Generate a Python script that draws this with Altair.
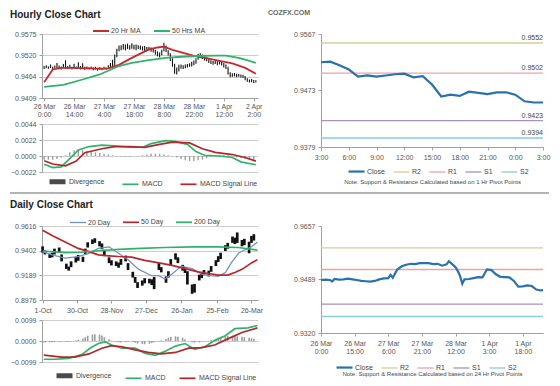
import json
import altair as alt
import pandas as pd

FONT = "Liberation Sans"

# ---------------- Hourly close chart (left) ----------------
H_LO = [.9484, .9486, .9485, .9487, .9483, .9486, .9484, .9486, .9483, .9488,
        .9485, .9484, .9486, .9483, .9485, .9484, .9486, .9483, .9485, .9482,
        .9484, .9483, .9484, .9481, .9483, .9480, .9482, .9481, .9483, .9482,
        .9484, .9486, .9484, .9490, .9515, .9530, .9533, .9535, .9532, .9536,
        .9534, .9537, .9535, .9533, .9536, .9534, .9532, .9531, .9530, .9532,
        .9529, .9527, .9521, .9517, .9514, .9520, .9530, .9528, .9519, .9505,
        .9490, .9472, .9470, .9478, .9485, .9484, .9486, .9488, .9490, .9491,
        .9494, .9498, .9508, .9512, .9510, .9506, .9504, .9500, .9497, .9495,
        .9497, .9494, .9496, .9493, .9488, .9484, .9470, .9463, .9464, .9465,
        .9463, .9464, .9462, .9461, .9455, .9451, .9449, .9450, .9448, .9449]
H_HI = [.9492, .9494, .9491, .9496, .9490, .9493, .9500, .9493, .9491, .9497,
        .9507, .9492, .9495, .9490, .9498, .9491, .9502, .9492, .9499, .9490,
        .9491, .9489, .9491, .9488, .9490, .9487, .9489, .9487, .9490, .9488,
        .9494, .9500, .9508, .9522, .9537, .9545, .9546, .9549, .9548, .9550,
        .9546, .9551, .9547, .9548, .9546, .9545, .9543, .9544, .9541, .9542,
        .9540, .9539, .9534, .9530, .9527, .9534, .9552, .9545, .9533, .9525,
        .9512, .9498, .9488, .9495, .9496, .9494, .9496, .9497, .9499, .9503,
        .9506, .9512, .9524, .9525, .9522, .9517, .9515, .9512, .9507, .9505,
        .9506, .9504, .9507, .9503, .9500, .9496, .9490, .9476, .9473, .9474,
        .9472, .9471, .9470, .9469, .9466, .9460, .9457, .9458, .9456, .9455]
H_MA20_X = [0, 4, 8, 14, 20, 26, 30, 35, 41, 45, 49, 53, 56, 60, 65, 70, 77, 82, 88, 94, 99]
H_MA20 = [.9450, .9483, .9487, .9487, .9486, .9485, .9486, .9495, .9513, .9524, .9535,
          .9540, .9542, .9534, .9526, .9518, .9511, .9505, .9499, .9487, .9472]
H_MA50_X = [0, 9, 18, 26, 35, 41, 49, 57, 64, 72, 80, 85, 91, 96, 99]
H_MA50 = [.9438, .9443, .9457, .9470, .9492, .9500, .9507, .9513, .9516, .9518, .9519,
          .9519, .9513, .9505, .9500]
H_XTICKS = [0, 14, 28, 42, 56, 70, 84, 98]
H_XLABELS = [["26 Mar", "0:00"], ["26 Mar", "14:00"], ["27 Mar", "4:00"], ["27 Mar", "18:00"],
             ["28 Mar", "8:00"], ["28 Mar", "22:00"], ["1 Apr", "12:00"], ["2 Apr", "2:00"]]
H_YTICKS = [0.9409, 0.94643, 0.95197, 0.9575]

H_MACD_X = [0, 4, 8, 12, 16, 21, 27, 33, 40, 46, 50, 57, 61, 67, 71, 75, 82, 88, 92, 99]
H_MACD = [-0.00113, -0.0016, -0.0015, -0.00035, 0.00084, 0.0013, 0.0015, 0.0014, 0.0012, 0.0012,
          0.0017, 0.0021, 0.0020, 0.0016, 0.0006, 0.0001, 0.0000, -0.0002, -0.0008, -0.0012]
H_SIG_X = [0, 4, 10, 15, 19, 27, 33, 40, 47, 54, 60, 68, 74, 80, 88, 94, 99]
H_SIG = [-0.00066, -0.0011, -0.00136, -0.0007, 0.00045, 0.0010, 0.0013, 0.0013, 0.0012, 0.0016,
         0.0019, 0.0018, 0.0010, 0.0005, 0.0002, -0.0002, -0.0007]
H_DIV = [-0.0005, -0.0005, -0.0005, -0.0004, -0.0002, 0.0001, 0.0005, 0.0008, 0.0009, 0.0008,
         0.0007, 0.0006, 0.0005, 0.0004, 0.0003, 0.0002, 0.0001, 0.0000, -0.0001, -0.0001,
         -0.0001, 0.0000, 0.0000, 0.0001, 0.0002, 0.0003, 0.0003, 0.0003, 0.0002, 0.0001,
         0.0000, -0.0002, -0.0004, -0.0006, -0.0007, -0.0007, -0.0006, -0.0005, -0.0003, -0.0001,
         0.0000, 0.0001, 0.0001, 0.0001, 0.0000, -0.0002, -0.0003, -0.0004, -0.0005, -0.0005]
H_MACD_TICKS = [-0.0022, 0.0, 0.0022, 0.0044]

# ---------------- Hourly pivot chart (right) ----------------
HR_CLOSE = [0.9520, 0.9521, 0.9515, 0.9508, 0.9496, 0.9498, 0.9496, 0.9498, 0.9500, 0.9501,
            0.9495, 0.9497, 0.9483, 0.9463, 0.9466, 0.9464, 0.9471, 0.9469, 0.9467, 0.9470,
            0.9470, 0.9466, 0.9455, 0.9453, 0.9453]
HR_LEVEL_NAMES = ["R2", "R1", "S1", "S2"]
HR_LEVELS = [0.9552, 0.9502, 0.9423, 0.9394]
HR_XTICKS = [0, 3, 6, 9, 12, 15, 18, 21, 24]
HR_XLABELS = ["3:00", "6:00", "9:00", "12:00", "15:00", "18:00", "21:00", "0:00", "3:00"]
HR_YTICKS = [0.9379, 0.9426, 0.9473, 0.9520, 0.9567]

# ---------------- Daily close chart (left) ----------------
D_START = "2013-10-01"
D_LO = [.9385, .9370, .9340, .9345, .9370, .9385, .9310, .9245, .9230, .9260,
        .9300, .9315, .9305, .9370, .9430, .9460, .9470, .9440, .9415, .9355,
        .9295, .9275, .9270, .9255, .9280, .9310, .9235, .9170, .9125, .9080,
        .9100, .9120, .9120, .9105, .9070, .9235, .9215, .9125, .9170, .9270,
        .9325, .9295, .9230, .9210, .9110, .9030, .9040, .9145, .9165, .9190,
        .9180, .9220, .9270, .9305, .9330, .9400, .9420, .9470, .9460, .9470,
        .9440, .9450, .9380, .9470, .9490]
D_HI = [.9440, .9405, .9375, .9385, .9420, .9430, .9370, .9290, .9265, .9310,
        .9350, .9365, .9350, .9420, .9475, .9500, .9510, .9485, .9465, .9410,
        .9345, .9320, .9310, .9300, .9330, .9360, .9295, .9220, .9175, .9130,
        .9145, .9165, .9160, .9155, .9175, .9295, .9260, .9180, .9225, .9330,
        .9380, .9345, .9280, .9260, .9225, .9110, .9115, .9195, .9215, .9235,
        .9230, .9270, .9320, .9355, .9385, .9450, .9470, .9525, .9515, .9560,
        .9495, .9505, .9480, .9530, .9545]
D_MA20_X = [0, 8, 19, 30, 39, 47, 56, 64, 72, 81, 92, 98, 103, 109, 117, 126, 134, 142, 148,
            154, 159, 165, 170, 176, 181]
D_MA20 = [0.9394, 0.9366, 0.9339, 0.9352, 0.9380, 0.9422, 0.9436, 0.9380, 0.9325, 0.9241,
          0.9186, 0.9186, 0.9158, 0.9200, 0.9269, 0.9247, 0.9200, 0.9186, 0.9180, 0.9214,
          0.9297, 0.9380, 0.9408, 0.9436, 0.9477]
D_MA50_X = [0, 8, 19, 30, 39, 47, 56, 64, 75, 86, 98, 109, 120, 131, 140, 148, 156, 162, 168,
            176, 181]
D_MA50 = [0.9580, 0.9533, 0.9477, 0.9422, 0.9394, 0.9366, 0.9358, 0.9352, 0.9347, 0.9319,
          0.9297, 0.9275, 0.9247, 0.9219, 0.9205, 0.9191, 0.9191, 0.9214, 0.9241, 0.9297, 0.9325]
D_MA200_X = [0, 19, 33, 47, 64, 83, 103, 126, 148, 165, 181]
D_MA200 = [0.9400, 0.9386, 0.9389, 0.9402, 0.9413, 0.9422, 0.9430, 0.9436, 0.9436, 0.9430, 0.9408]
D_XTICKS = [0, 29, 58, 87, 117, 147, 176]
D_XLABELS = ["1-Oct", "30-Oct", "28-Nov", "27-Dec", "26-Jan", "25-Feb", "26-Mar"]
D_YTICKS = [0.8976, 0.9189, 0.9402, 0.9616]

D_MACD_X = [1, 11, 22, 33, 40, 47, 53, 58, 67, 78, 86, 95, 103, 112, 120, 128, 137, 145, 154,
            162, 173, 181]
D_MACD = [-0.0086, -0.0086, -0.0082, -0.0064, -0.0034, -0.0012, -0.0004, -0.0019, -0.0034,
          -0.0034, -0.0057, -0.0068, -0.0049, -0.0024, -0.0012, -0.0039, -0.0027, 0.0003,
          0.0025, 0.0058, 0.0062, 0.0073]
D_SIG_X = [1, 16, 27, 39, 50, 58, 67, 78, 89, 100, 112, 123, 134, 145, 156, 168, 181]
D_SIG = [-0.0067, -0.0076, -0.0076, -0.0061, -0.0034, -0.0022, -0.0027, -0.0042, -0.0054,
         -0.0061, -0.0054, -0.0034, -0.0031, -0.0019, 0.0010, 0.0040, 0.0062]
D_DIV = [-0.0008, -0.0007, -0.0006, -0.0006, -0.0005, -0.0004, -0.0003, -0.0004, -0.0003, -0.0001,
         0.0002, 0.0006, 0.0012, 0.0018, 0.0025, 0.0030, 0.0032, 0.0030, 0.0026, 0.0018,
         0.0008, 0.0002, -0.0004, -0.0006, -0.0007, -0.0005, -0.0003, -0.0004, -0.0008, -0.0012,
         -0.0014, -0.0015, -0.0013, -0.0010, -0.0006, -0.0002, 0.0003, 0.0010, 0.0016, 0.0020,
         0.0022, 0.0020, 0.0015, 0.0008, 0.0000, -0.0006, -0.0008, -0.0006, -0.0003, -0.0001,
         0.0001, 0.0005, 0.0010, 0.0015, 0.0020, 0.0022, 0.0024, 0.0025, 0.0024, 0.0022,
         0.0020, 0.0018, 0.0015, 0.0013, 0.0011]
D_MACD_TICKS = [-0.0099, 0.0, 0.0099]

# ---------------- Daily pivot chart (right) ----------------
DR_X = [0, 2, 4, 5, 6, 8, 10, 12, 14, 16, 18, 20, 22, 24, 26, 28, 30, 31, 32, 34,
        36, 38, 40, 42, 44, 46, 48, 50, 52, 54, 56, 57, 58, 60, 61, 62, 63, 64, 66, 68,
        70, 72, 74, 76, 78, 80, 82, 84, 86, 88, 90, 92, 94, 96, 98, 99]
DR_CLOSE = [0.9487, 0.9488, 0.9487, 0.9482, 0.9490, 0.9488, 0.9489, 0.9491, 0.9489, 0.9487,
            0.9484, 0.9483, 0.9482, 0.9484, 0.9489, 0.9492, 0.9493, 0.9503, 0.9494, 0.9520,
            0.9530, 0.9535, 0.9538, 0.9537, 0.9540, 0.9540, 0.9540, 0.9537, 0.9538, 0.9532,
            0.9536, 0.9546, 0.9540, 0.9527, 0.9515, 0.9500, 0.9475, 0.9489, 0.9490, 0.9493,
            0.9496, 0.9495, 0.9520, 0.9518, 0.9505, 0.9497, 0.9496, 0.9495, 0.9484, 0.9466,
            0.9467, 0.9470, 0.9468, 0.9457, 0.9454, 0.9455]
DR_LEVEL_NAMES = ["R2", "R1", "S1", "S2"]
DR_LEVELS = [0.9588, 0.9520, 0.9411, 0.9372]
DR_XTICKS = [0, 15, 30, 45, 60, 75, 90]
DR_XLABELS = [["26 Mar", "0:00"], ["26 Mar", "15:00"], ["27 Mar", "6:00"], ["27 Mar", "21:00"],
              ["28 Mar", "12:00"], ["1 Apr", "3:00"], ["1 Apr", "18:00"]]
DR_YTICKS = [0.9320, 0.9404, 0.9489, 0.9573, 0.9657]

# ---------------- series names / styles ----------------
H_MA_SERIES = ["20 Hr MA", "50 Hrs MA"]
H_MA_COLORS = ["#c62a2f", "#2fb36b"]
MACD_SERIES = ["Divergence", "MACD", "MACD Signal Line"]
MACD_COLORS = ["#4a4a4a", "#2fb36b", "#b3272c"]
MACD_WIDTHS = [5, 1.7, 1.7]
D_MA_SERIES = ["20 Day", "50 Day", "200 Day"]
D_MA_COLORS = ["#7390bd", "#b8272c", "#2fb36b"]
D_MA_WIDTHS = [1.3, 1.7, 1.7]
RS_SERIES = ["Close", "R2", "R1", "S1", "S2"]
RS_COLORS = ["#2871ad", "#d2cf98", "#e9a3a6", "#a692c0", "#8ccbdc"]
RS_WIDTHS = [2.2, 1.3, 1.3, 1.3, 1.3]

NOTE_H = "Note: Support & Resistance Calculated based on 1 Hr Pivot Points"
NOTE_D = "Note: Support & Resistance Calculated based on 24 Hr Pivot Points"

# panel geometry (pixels)
LW = 216           # left panels width
RW = 222           # right panels width
GAP_X = 63
H_PH, H_GAP, H_MH = 64, 26, 48     # hourly: price height, gap, macd height
D_PH, D_GAP, D_MH = 74, 20, 42     # daily
H_TOT = H_PH + H_GAP + H_MH
D_TOT = D_PH + D_GAP + D_MH


def lab_expr(ticks, labels):
    return f"{json.dumps(labels)}[indexof({json.dumps(ticks)}, datum.value)]"


def leg(x, y, n, pad):
    return alt.Legend(orient="none", legendX=x, legendY=y, direction="horizontal",
                      columns=n, title=None, gridAlign="each", columnPadding=pad)


def y_axis(values, grid=True):
    return alt.Axis(values=values, format=".4f", grid=grid, title=None, orient="left")


def title(text, dx, offset, dy, size=10, weight="bold", color="#222"):
    return alt.TitleParams(text=text, anchor="start", frame="group", dx=dx, dy=dy, offset=offset,
                           fontSize=size, fontWeight=weight, color=color, font=FONT,
                           baseline="alphabetic")


def wscale(domain, rng):
    return alt.Scale(type="ordinal", domain=domain, range=rng)


# ---------------- data frames ----------------
hbar = pd.DataFrame({"idx": list(range(len(H_LO))), "lo": H_LO, "hi": H_HI})
hma = pd.concat([
    pd.DataFrame({"idx": H_MA20_X, "value": H_MA20, "series": H_MA_SERIES[0]}),
    pd.DataFrame({"idx": H_MA50_X, "value": H_MA50, "series": H_MA_SERIES[1]}),
])
hdiv = pd.DataFrame({"idx": list(range(0, 2 * len(H_DIV), 2)), "div": H_DIV})
hmacd = pd.concat([
    pd.DataFrame({"idx": H_MACD_X, "value": H_MACD, "series": MACD_SERIES[1]}),
    pd.DataFrame({"idx": H_SIG_X, "value": H_SIG, "series": MACD_SERIES[2]}),
])
hr_close = pd.DataFrame({"h": list(range(len(HR_CLOSE))), "value": HR_CLOSE, "series": "Close"})
hr_lv = pd.DataFrame({"series": HR_LEVEL_NAMES, "value": HR_LEVELS,
                      "label": [f"{v:.4f}" for v in HR_LEVELS], "h": 24})

d_dates = pd.bdate_range(D_START, periods=2 * len(D_LO))[::2]
d_days = [(d - pd.Timestamp(D_START)).days for d in d_dates]
dbar = pd.DataFrame({"day": d_days, "lo": D_LO, "hi": D_HI})
dma = pd.concat([
    pd.DataFrame({"day": D_MA20_X, "value": D_MA20, "series": D_MA_SERIES[0]}),
    pd.DataFrame({"day": D_MA50_X, "value": D_MA50, "series": D_MA_SERIES[1]}),
    pd.DataFrame({"day": D_MA200_X, "value": D_MA200, "series": D_MA_SERIES[2]}),
])
ddiv = pd.DataFrame({"day": d_days, "div": D_DIV})
dmacd = pd.concat([
    pd.DataFrame({"day": D_MACD_X, "value": D_MACD, "series": MACD_SERIES[1]}),
    pd.DataFrame({"day": D_SIG_X, "value": D_SIG, "series": MACD_SERIES[2]}),
])
dr_close = pd.DataFrame({"h": DR_X, "value": DR_CLOSE, "series": "Close"})
dr_lv = pd.DataFrame({"series": DR_LEVEL_NAMES, "value": DR_LEVELS})
sep = pd.DataFrame({"k": [0]})

IND = dict(color="independent", strokeWidth="independent")

# ---------------- hourly left (price + macd in one view) ----------------
hx = alt.X("idx:Q", scale=alt.Scale(domain=[-1, 100], nice=False, zero=False),
           axis=alt.Axis(values=H_XTICKS, labelExpr=lab_expr(H_XTICKS, H_XLABELS), grid=False,
                         title=None, labelFlush=False, labelOverlap=False, labelLineHeight=8,
                         labelPadding=1, offset=-(H_GAP + H_MH)))
h_pscale = alt.Scale(domain=[0.9409, 0.9575], nice=False, zero=False, range=[H_PH, 0])
h_mscale = alt.Scale(domain=[-0.0022, 0.0044], nice=False, zero=False,
                     range=[H_TOT, H_PH + H_GAP])
hp_candles = alt.Chart(hbar).mark_rule(color="#111111", strokeWidth=1.1).encode(
    x=hx, y=alt.Y("lo:Q", scale=h_pscale, axis=y_axis(H_YTICKS)), y2="hi:Q")
hp_ma = alt.Chart(hma).mark_line(strokeWidth=1.8).encode(
    x=hx, y=alt.Y("value:Q", scale=h_pscale, axis=None),
    color=alt.Color("series:N", scale=alt.Scale(domain=H_MA_SERIES, range=H_MA_COLORS),
                    legend=leg(50, -12, 2, 9)),
)
h_macd_leg = leg(5, H_TOT - 1, 3, 14)
hm_div = alt.Chart(hdiv).mark_rule(color="#9c9c9c", strokeWidth=1.4).encode(
    x=hx, y=alt.Y("div:Q", scale=h_mscale, axis=y_axis(H_MACD_TICKS)), y2=alt.datum(0))
hm_lines = alt.Chart(hmacd).mark_line().encode(
    x=hx, y=alt.Y("value:Q", scale=h_mscale, axis=None),
    color=alt.Color("series:N", scale=alt.Scale(domain=MACD_SERIES, range=MACD_COLORS),
                    legend=h_macd_leg),
    strokeWidth=alt.StrokeWidth("series:N", scale=wscale(MACD_SERIES, MACD_WIDTHS),
                                legend=h_macd_leg),
)
h_sep = alt.Chart(sep).mark_rule(color="#b4b4b4", strokeWidth=2).encode(
    x=alt.value(-32), x2=alt.value(LW + GAP_X + RW + 6), y=alt.value(H_TOT + 21))
hleft = alt.layer(hp_candles, hp_ma, hm_div, hm_lines, h_sep).resolve_scale(
    y="independent", **IND).properties(
    width=LW, height=H_TOT, title=title("Hourly Close Chart", -32, 6, 12))

# ---------------- hourly pivots ----------------
hrx = alt.X("h:Q", scale=alt.Scale(domain=[0, 24], nice=False, zero=False),
            axis=alt.Axis(values=HR_XTICKS, labelExpr=lab_expr(HR_XTICKS, HR_XLABELS), grid=False,
                          labelFlush=False, labelOverlap=False, title=NOTE_H, titleFontSize=6,
                          titleFontWeight="normal", titleColor="#444444", titleY=31))
hr_yscale = alt.Scale(domain=[0.9379, 0.9567], nice=False, zero=False)
rs_color = alt.Scale(domain=RS_SERIES, range=RS_COLORS)
rs_width = wscale(RS_SERIES, RS_WIDTHS)
hr_leg = leg(26, 128, 5, 5)
hr_rules = alt.Chart(hr_lv).mark_rule().encode(
    y=alt.Y("value:Q", scale=hr_yscale, axis=y_axis(HR_YTICKS, grid=False)),
    color=alt.Color("series:N", scale=rs_color, legend=hr_leg),
    strokeWidth=alt.StrokeWidth("series:N", scale=rs_width, legend=hr_leg),
)
hr_text = alt.Chart(hr_lv).mark_text(align="right", baseline="bottom", dy=-2, fontSize=7,
                                     color="#444444", font=FONT).encode(
    x=hrx, y="value:Q", text="label:N")
hr_line = alt.Chart(hr_close).mark_line().encode(
    x=hrx, y="value:Q",
    color=alt.Color("series:N", scale=rs_color, legend=hr_leg),
    strokeWidth=alt.StrokeWidth("series:N", scale=rs_width, legend=hr_leg),
)
hr = alt.layer(hr_rules, hr_line, hr_text).properties(
    width=RW, height=113,
    title=title("COZFX.COM", -53, 14, 6, size=7, weight="bold", color="#666666"))

# ---------------- daily left (price + macd in one view) ----------------
dx_ = alt.X("day:Q", scale=alt.Scale(domain=[-0.5, 181.5], nice=False, zero=False),
            axis=alt.Axis(values=D_XTICKS, labelExpr=lab_expr(D_XTICKS, D_XLABELS), grid=False,
                          title=None, labelFlush=False, labelOverlap=False,
                          offset=-(D_GAP + D_MH)))
d_pscale = alt.Scale(domain=[0.8976, 0.9616], nice=False, zero=False, range=[D_PH, 0])
d_mscale = alt.Scale(domain=[-0.0099, 0.0099], nice=False, zero=False,
                     range=[D_TOT, D_PH + D_GAP])
dp_leg = leg(27, -13, 3, 8)
dp_candles = alt.Chart(dbar).mark_rule(color="#111111", strokeWidth=2.7).encode(
    x=dx_, y=alt.Y("lo:Q", scale=d_pscale, axis=y_axis(D_YTICKS)), y2="hi:Q")
dp_ma = alt.Chart(dma).mark_line().encode(
    x=dx_, y=alt.Y("value:Q", scale=d_pscale, axis=None),
    color=alt.Color("series:N", scale=alt.Scale(domain=D_MA_SERIES, range=D_MA_COLORS),
                    legend=dp_leg),
    strokeWidth=alt.StrokeWidth("series:N", scale=wscale(D_MA_SERIES, D_MA_WIDTHS),
                                legend=dp_leg),
)
d_macd_leg = leg(12, D_TOT + 3, 3, 10)
dm_div = alt.Chart(ddiv).mark_rule(color="#9c9c9c", strokeWidth=1.6).encode(
    x=dx_, y=alt.Y("div:Q", scale=d_mscale, axis=y_axis(D_MACD_TICKS)), y2=alt.datum(0))
dm_lines = alt.Chart(dmacd).mark_line().encode(
    x=dx_, y=alt.Y("value:Q", scale=d_mscale, axis=None),
    color=alt.Color("series:N", scale=alt.Scale(domain=MACD_SERIES, range=MACD_COLORS),
                    legend=d_macd_leg),
    strokeWidth=alt.StrokeWidth("series:N", scale=wscale(MACD_SERIES, MACD_WIDTHS),
                                legend=d_macd_leg),
)
dleft = alt.layer(dp_candles, dp_ma, dm_div, dm_lines).resolve_scale(
    y="independent", **IND).properties(
    width=LW, height=D_TOT, title=title("Daily Close Chart", -32, 7, 12))

# ---------------- daily pivots ----------------
drx = alt.X("h:Q", scale=alt.Scale(domain=[0, 99], nice=False, zero=False),
            axis=alt.Axis(values=DR_XTICKS, labelExpr=lab_expr(DR_XTICKS, DR_XLABELS), grid=False,
                          labelFlush=False, labelOverlap=False, labelLineHeight=8, title=NOTE_D,
                          titleFontSize=6, titleFontWeight="normal", titleColor="#444444",
                          titleY=37))
dr_yscale = alt.Scale(domain=[0.9320, 0.9657], nice=False, zero=False)
dr_leg = leg(14, 132, 5, 5)
dr_rules = alt.Chart(dr_lv).mark_rule().encode(
    y=alt.Y("value:Q", scale=dr_yscale, axis=y_axis(DR_YTICKS, grid=False)),
    color=alt.Color("series:N", scale=rs_color, legend=dr_leg),
    strokeWidth=alt.StrokeWidth("series:N", scale=rs_width, legend=dr_leg),
)
dr_line = alt.Chart(dr_close).mark_line().encode(
    x=drx, y="value:Q",
    color=alt.Color("series:N", scale=rs_color, legend=dr_leg),
    strokeWidth=alt.StrokeWidth("series:N", scale=rs_width, legend=dr_leg),
)
dr = alt.layer(dr_rules, dr_line).properties(width=RW, height=107)

# ---------------- layout ----------------
top_row = alt.hconcat(hleft, hr, spacing=GAP_X, bounds="flush").resolve_scale(**IND)
bottom_row = alt.hconcat(dleft, dr, spacing=GAP_X, bounds="flush").resolve_scale(**IND)

chart = (
    alt.vconcat(top_row, bottom_row, spacing=4)
    .resolve_scale(**IND)
    .properties(padding=0)
    .configure_view(stroke="transparent")
    .configure_axis(labelFont=FONT, labelFontSize=7, labelColor="#555555", domainColor="#a0a0a0",
                    tickColor="#a0a0a0", gridColor="#cdcdcd", tickSize=3, labelPadding=3,
                    titleFont=FONT, labelOverlap=False)
    .configure_legend(labelFont=FONT, labelFontSize=7, labelColor="#444444", symbolType="stroke",
                      symbolSize=256, symbolStrokeWidth=2, labelOffset=1,
                      padding=0, rowPadding=0, gridAlign="each")
)

chart.save("out.html", embed_options={"renderer": "svg", "actions": False})
